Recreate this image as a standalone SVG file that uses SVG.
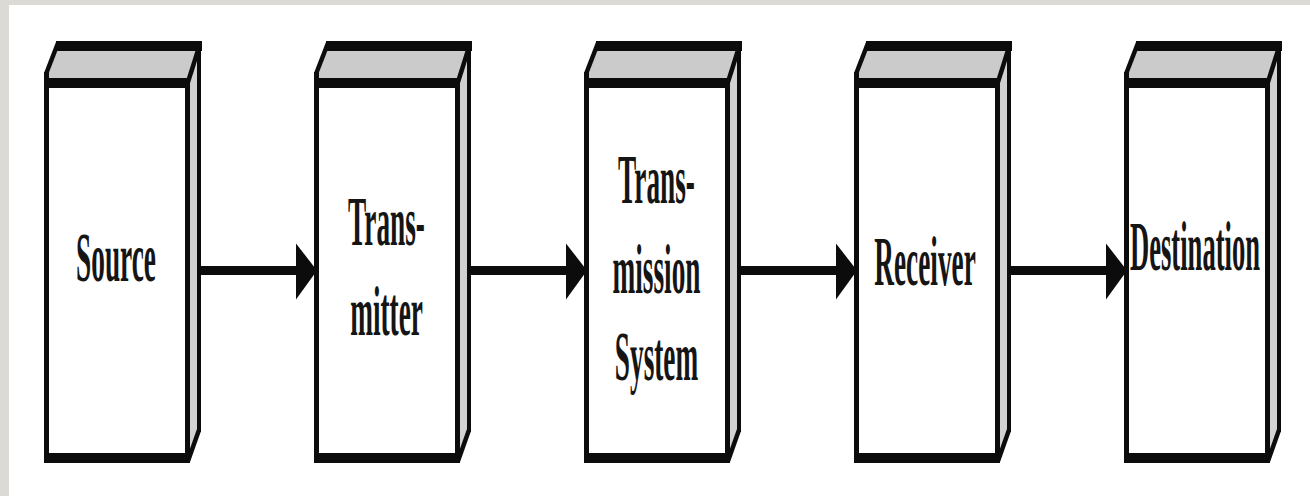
<svg xmlns="http://www.w3.org/2000/svg" xmlns:xlink="http://www.w3.org/1999/xlink" width="1310" height="496" viewBox="0 0 1310 496">
  <style>
    .lbl { font-family: "Liberation Serif", "Times New Roman", serif; font-size: 70px; font-weight: bold; fill: #151515; text-anchor: middle; }
    .ink { fill: #0c0c0c; }
    .edge { stroke: #0c0c0c; stroke-width: 4.5; fill: none; }
    .conn { stroke: #0c0c0c; stroke-width: 9; fill: none; }
  </style>
  <defs>
    <marker id="head" markerUnits="userSpaceOnUse" markerWidth="24" markerHeight="60" refX="0" refY="28" orient="auto" overflow="visible">
      <polygon points="0,1 21,28 0,57" fill="#0c0c0c"/>
    </marker>
    <g id="box">
      <polygon points="47,78 58,46 200,46 189,78" fill="#cbcbcb"/>
      <polygon points="189,80 199,46 199,432 189,460" fill="#d2d2d2"/>
      <rect x="47" y="86" width="140" height="369" fill="#ffffff"/>
      <rect class="ink" x="56" y="41" width="146" height="10"/>
      <rect class="ink" x="46" y="78" width="143" height="10"/>
      <rect class="ink" x="44" y="453" width="146" height="10"/>
      <rect class="ink" x="44" y="72" width="5" height="391"/>
      <rect class="ink" x="185" y="78" width="5" height="385"/>
      <rect class="ink" x="197" y="41" width="4" height="391"/>
      <line class="edge" x1="46" y1="74" x2="58" y2="43"/>
      <line class="edge" x1="188" y1="82" x2="200" y2="44"/>
      <line class="edge" x1="199" y1="430" x2="188" y2="461"/>
    </g>
  </defs>

  <rect x="0" y="0" width="1310" height="496" fill="#ffffff"/>
  <rect x="0" y="0" width="1310" height="5" fill="#dcdad5"/>
  <rect x="0" y="0" width="9" height="496" fill="#dcdad5"/>

  <g id="connectors">
    <path class="conn" d="M188 270.5 H296" marker-end="url(#head)"/>
    <path class="conn" d="M458 270.5 H566" marker-end="url(#head)"/>
    <path class="conn" d="M728 270.5 H836" marker-end="url(#head)"/>
    <path class="conn" d="M998 270.5 H1106" marker-end="url(#head)"/>
  </g>

  <g id="source">
    <use xlink:href="#box" href="#box"/>
    <text class="lbl" transform="translate(116,281) scale(0.39,1)">Source</text>
  </g>
  <g id="transmitter">
    <use xlink:href="#box" href="#box" x="270"/>
    <text class="lbl" transform="translate(386.5,245) scale(0.39,1)">Trans-</text>
    <text class="lbl" transform="translate(386.5,335) scale(0.39,1)">mitter</text>
  </g>
  <g id="transmission-system">
    <use xlink:href="#box" href="#box" x="540"/>
    <text class="lbl" transform="translate(656.5,203) scale(0.39,1)">Trans-</text>
    <text class="lbl" transform="translate(656.5,293) scale(0.39,1)">mission</text>
    <text class="lbl" transform="translate(656.5,380) scale(0.39,1)">System</text>
  </g>
  <g id="receiver">
    <use xlink:href="#box" href="#box" x="810"/>
    <text class="lbl" transform="translate(925,285) scale(0.39,1)">Receiver</text>
  </g>
  <g id="destination">
    <use xlink:href="#box" href="#box" x="1080"/>
    <text class="lbl" transform="translate(1195,270) scale(0.38,1)">Destination</text>
  </g>
</svg>
